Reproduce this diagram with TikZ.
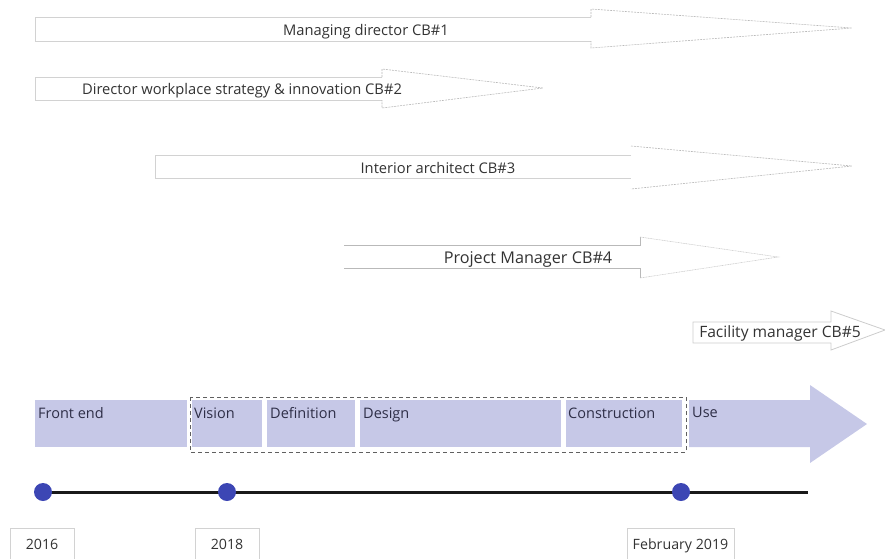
\documentclass[tikz,border=0pt]{standalone}
\usepackage{fontspec}
\setmainfont{Open Sans}
\definecolor{phasec}{HTML}{C6C8E7}
\definecolor{dotc}{HTML}{3C46B4}
\definecolor{txtc}{HTML}{333333}
\begin{document}
\begin{tikzpicture}[x=1pt,y=-1pt,
  lbl/.style={font=\fontsize{14.7}{17}\selectfont, text=txtc, inner sep=0, anchor=base},
  plbl/.style={font=\fontsize{14.5}{17}\selectfont, text=txtc!90!blue, inner sep=0, anchor=base west},
  ylbl/.style={font=\fontsize{14.2}{17}\selectfont, text=txtc, inner sep=0, anchor=base},
  bodyline/.style={draw=gray!35, line width=0.8pt},
  headline/.style={draw=gray!55, dashed, dash pattern=on 2pt off 1pt, line width=0.6pt},
  dot/.style={circle, fill=dotc, minimum size=18pt, inner sep=0},
  yearbox/.style={draw=gray!35, line width=0.8pt}
]
\useasboundingbox (0,0) rectangle (885,558);

% ---- role arrows ----
% CB#1
\draw[bodyline] (591,17) -- (35,17) -- (35,41) -- (591,41);
\draw[headline] (591,17) -- (591,9) -- (852,28) -- (591,48) -- (591,41);
\node[lbl] (cb1) at (366,35) {Managing director CB\#1};
% CB#2
\draw[bodyline] (382,77) -- (35,77) -- (35,100) -- (382,100);
\draw[headline] (382,77) -- (382,69) -- (543,88) -- (382,108) -- (382,100);
\node[lbl] (cb2) at (242,94.5) {Director workplace strategy \& innovation CB\#2};
% CB#3
\draw[bodyline] (631,155) -- (155,155) -- (155,178) -- (631,178);
\draw[headline] (631,146) -- (852,166) -- (631,189);
\node[lbl] (cb3) at (438,173) {Interior architect CB\#3};
% CB#4
\draw[draw=gray!55, line width=0.8pt] (344,245) -- (640,245) -- (640,237);
\draw[draw=gray!55, line width=0.8pt] (344,268) -- (640,268) -- (640,278);
\draw[headline, dash pattern=on 1pt off 0.6pt, draw=gray!40] (640,237) -- (778,257) -- (640,278);
\node[lbl, font=\fontsize{16.2}{18}\selectfont] (cb4) at (528,263) {Project Manager CB\#4};
% CB#5
\draw[draw=gray!40, line width=0.8pt] (693,322) -- (831,322) -- (831,311) -- (885,330) -- (831,350) -- (831,343) -- (693,343) -- cycle;
\node[lbl, font=\fontsize{15.6}{18}\selectfont] (cb5) at (780,337) {Facility manager CB\#5};

% ---- phases ----
\fill[phasec] (35,400) rectangle (187,447);
\fill[phasec] (192,400) rectangle (262,447);
\fill[phasec] (267,400) rectangle (355,447);
\fill[phasec] (360,400) rectangle (561,447);
\fill[phasec] (566,400) rectangle (682,447);
\fill[phasec] (689,400) -- (810,400) -- (810,385) -- (867,424) -- (810,463) -- (810,447) -- (689,447) -- cycle;
\node[plbl] (p1) at (38,418) {Front end};
\node[plbl] (p2) at (194,418) {Vision};
\node[plbl] (p3) at (270,418) {Definition};
\node[plbl] (p4) at (363,418) {Design};
\node[plbl] (p5) at (568,418) {Construction};
\node[plbl] (p6) at (692,417) {Use};
\draw[gray!75!black, dashed, dash pattern=on 4pt off 3pt, line width=0.9pt] (190,397) rectangle (686,452);

% ---- timeline ----
\coordinate (t1) at (43,492);
\coordinate (t2) at (227,492);
\coordinate (t3) at (681,492);
\coordinate (tend) at (808,492);
\draw[line width=3pt, black!90] (t1) -- (t2) -- (t3) -- (tend);
\node[dot] (d1) at (t1) {};
\node[dot] (d2) at (t2) {};
\node[dot] (d3) at (t3) {};

% ---- years ----
\draw[yearbox] (10,562) -- (10,528) -- (74,528) -- (74,562);
\draw[yearbox] (195,562) -- (195,528) -- (259,528) -- (259,562);
\draw[yearbox] (627,562) -- (627,528) -- (734,528) -- (734,562);
\node[ylbl] (y1) at (42,549) {2016};
\node[ylbl] (y2) at (227,549) {2018};
\node[ylbl] (y3) at (680.5,549) {February 2019};
\end{tikzpicture}
\end{document}
